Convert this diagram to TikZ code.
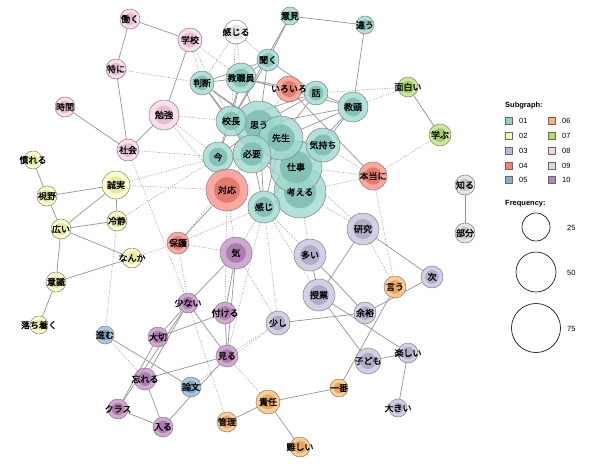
\documentclass[tikz,border=0pt]{standalone}
\usepackage{fontspec}
\newfontfamily\jpfont[FakeBold=1.2]{Noto Sans CJK JP}
\newfontfamily\legfont{Liberation Sans}
\pgfdeclarelayer{bg}\pgfdeclarelayer{fg}\pgfsetlayers{bg,main,fg}
\definecolor{c01}{HTML}{8DD3C7}
\definecolor{c02}{HTML}{FFFFB3}
\definecolor{c03}{HTML}{BEBADA}
\definecolor{c04}{HTML}{FB8072}
\definecolor{c05}{HTML}{80B1D3}
\definecolor{c06}{HTML}{FDB462}
\definecolor{c07}{HTML}{B3DE69}
\definecolor{c08}{HTML}{FCCDE5}
\definecolor{c09}{HTML}{D9D9D9}
\definecolor{cwh}{HTML}{FFFFFF}
\definecolor{c10}{HTML}{BC80BD}
\tikzset{
  kh/.style 2 args={circle, draw=black!50, line width=0.5pt, inner sep=0pt,
    minimum size=2*#1pt, fill=#2!85!white, fill opacity=0.8,
    path picture={\fill[#2!88!black] (path picture bounding box.center) circle (0.62*#1pt);}},
  lbl/.style={inner sep=0pt, font=\jpfont\fontsize{9}{10}\selectfont},
  se/.style={draw=black!42, line width=0.7pt},
  de/.style={draw=black!38, line width=0.7pt, dash pattern=on 0.9pt off 1.6pt},
  sq/.style={draw=black!60, line width=0.5pt, minimum width=7pt, minimum height=7pt, inner sep=0pt},
  lt/.style={font=\legfont\fontsize{7.5}{8}\selectfont, anchor=west, inner sep=0pt},
  lh/.style={font=\legfont\bfseries\fontsize{7.5}{8}\selectfont, anchor=west, inner sep=0pt},
  fc/.style={circle, draw=black, line width=0.6pt, inner sep=0pt},
}
\newcommand\kn[6]{\node[kh={#4}{#5}] (#1) at (#2,#3) {};
  \begin{pgfonlayer}{fg}\node[lbl] (#1-t) at (#2,#3) {#6};\end{pgfonlayer}}
\begin{document}
\begin{tikzpicture}[x=1pt,y=-1pt]
\begin{pgfonlayer}{bg}\fill[white] (0,0) rectangle (600,464);\end{pgfonlayer}
\useasboundingbox (0,0) rectangle (600,464);
% teal
\kn{kangaeru}{300}{192}{26}{c01}{考える}
\kn{shigoto}{296}{167}{26}{c01}{仕事}
\kn{omou}{259}{125}{24}{c01}{思う}
\kn{sensei}{281}{138}{22}{c01}{先生}
\kn{hitsuyo}{252}{154}{19}{c01}{必要}
\kn{kimochi}{323}{145}{17}{c01}{気持ち}
\kn{ima}{218}{157}{15}{c01}{今}
\kn{kocho}{231}{121}{15}{c01}{校長}
\kn{kanji}{264}{207}{16}{c01}{感じ}
\kn{kyoshokuin}{241}{78}{15}{c01}{教職員}
\kn{kyoto}{353}{107}{15}{c01}{教頭}
\kn{handan}{202}{83}{12}{c01}{判断}
\kn{hanashi}{316}{93}{12}{c01}{話}
\kn{kiku}{268}{60}{11}{c01}{聞く}
\kn{iken}{290}{16}{9}{c01}{意見}
\kn{chigau}{365}{25}{9}{c01}{違う}
% red
\kn{taio}{227}{190}{21}{c04}{対応}
\kn{iroiro}{289}{89}{13}{c04}{いろいろ}
\kn{honto}{373}{176}{14}{c04}{本当に}
\kn{hogo}{178}{243}{11}{c04}{保護}
% white
\kn{kanjiru}{236}{32}{12}{cwh}{感じる}
% pink
\kn{hataraku}{130}{19}{10}{c08}{働く}
\kn{gakko}{190}{40}{12}{c08}{学校}
\kn{tokuni}{116}{69}{10}{c08}{特に}
\kn{jikan}{65}{107}{10}{c08}{時間}
\kn{benkyo}{164}{115}{15}{c08}{勉強}
\kn{shakai}{128}{150}{11}{c08}{社会}
% green / gray
\kn{omoshiroi}{408}{87}{10}{c07}{面白い}
\kn{manabu}{440}{135}{11}{c07}{学ぶ}
\kn{shiru}{465}{185}{10}{c09}{知る}
\kn{bubun}{465}{233}{10}{c09}{部分}
% yellow
\kn{nareru}{33}{160}{9}{c02}{慣れる}
\kn{shiya}{47}{196}{10}{c02}{視野}
\kn{seijitsu}{116}{185}{14}{c02}{誠実}
\kn{reisei}{117}{221}{10}{c02}{冷静}
\kn{hiroi}{61}{229}{10}{c02}{広い}
\kn{nanka}{132}{258}{10}{c02}{なんか}
\kn{ishiki}{56}{282}{10}{c02}{意識}
\kn{ochitsuku}{39}{325}{9}{c02}{落ち着く}
% purple
\kn{ki}{236}{253}{16}{c10}{気}
\kn{sukunai}{188}{303}{10}{c10}{少ない}
\kn{tsukeru}{225}{313}{11}{c10}{付ける}
\kn{taisetsu}{158}{337}{10}{c10}{大切}
\kn{miru}{227}{356}{11}{c10}{見る}
\kn{wasureru}{145}{379}{11}{c10}{忘れる}
\kn{kurasu}{118}{409}{10}{c10}{クラス}
\kn{hairu}{163}{427}{10}{c10}{入る}
% blue
\kn{susumu}{105}{335}{9}{c05}{進む}
\kn{ronbun}{191}{387}{10}{c05}{論文}
% orange
\kn{kanri}{227}{422}{10}{c06}{管理}
\kn{sekinin}{268}{402}{12}{c06}{責任}
\kn{muzukashii}{300}{447}{10}{c06}{難しい}
\kn{ichiban}{339}{388}{9}{c06}{一番}
\kn{iu}{395}{287}{11}{c06}{言う}
% lavender
\kn{kenkyu}{363}{229}{16}{c03}{研究}
\kn{oi}{310}{255}{16}{c03}{多い}
\kn{tsugi}{432}{277}{11}{c03}{次}
\kn{jugyo}{319}{295}{16}{c03}{授業}
\kn{yoyu}{365}{313}{11}{c03}{余裕}
\kn{sukoshi}{278}{323}{12}{c03}{少し}
\kn{kodomo}{368}{361}{13}{c03}{子ども}
\kn{tanoshii}{408}{353}{10}{c03}{楽しい}
\kn{ookii}{398}{408}{9}{c03}{大きい}

\begin{pgfonlayer}{bg}
\foreach \a/\b in {hataraku/gakko,hataraku/tokuni,tokuni/shakai,gakko/benkyo,benkyo/shakai,jikan/shakai,
  iken/chigau,iken/kiku,iken/kocho,chigau/kyoto,
  kiku/handan,kiku/kyoshokuin,kiku/kocho,kiku/omou,kiku/hanashi,kyoshokuin/kyoto,
  handan/kyoshokuin,handan/kocho,handan/omou,handan/sensei,handan/hitsuyo,
  kyoshokuin/kocho,kyoshokuin/omou,kyoshokuin/hanashi,kyoshokuin/ima,
  hanashi/omou,hanashi/sensei,hanashi/kyoto,hanashi/kocho,
  kyoto/sensei,kyoto/kimochi,kyoto/shigoto,kyoto/omou,
  kocho/omou,kocho/ima,kocho/hitsuyo,kocho/sensei,
  omou/sensei,omou/hitsuyo,omou/ima,omou/shigoto,omou/kangaeru,omou/kanji,
  sensei/kimochi,sensei/shigoto,sensei/kangaeru,sensei/hitsuyo,sensei/kanji,
  kimochi/shigoto,kimochi/kangaeru,ima/hitsuyo,ima/shigoto,
  hitsuyo/shigoto,hitsuyo/kangaeru,hitsuyo/kanji,shigoto/kangaeru,shigoto/kanji,kangaeru/kanji,
  iroiro/honto,taio/hogo,omoshiroi/manabu,shiru/bubun,
  nareru/shiya,shiya/seijitsu,shiya/hiroi,hiroi/seijitsu,hiroi/reisei,seijitsu/reisei,
  hiroi/nanka,hiroi/ishiki,ishiki/nanka,ishiki/ochitsuku,
  ki/sukunai,ki/tsukeru,ki/miru,sukunai/taisetsu,sukunai/wasureru,sukunai/kurasu,sukunai/miru,
  taisetsu/tsukeru,taisetsu/kurasu,wasureru/miru,wasureru/hairu,kurasu/hairu,tsukeru/miru,hairu/miru,
  susumu/ronbun,
  kanri/sekinin,sekinin/muzukashii,sekinin/ichiban,ichiban/iu,
  kenkyu/jugyo,kenkyu/tsugi,oi/jugyo,oi/yoyu,jugyo/kodomo,jugyo/tanoshii,yoyu/sukoshi,yoyu/tsugi,
  kodomo/tanoshii,tanoshii/ookii}
  \draw[se] (\a) -- (\b);
\foreach \a/\b in {kanjiru/handan,kanjiru/kyoshokuin,kanjiru/kocho,kanjiru/kiku,
  gakko/handan,gakko/kyoshokuin,gakko/kocho,tokuni/handan,
  benkyo/kocho,benkyo/ima,benkyo/taio,shakai/ima,shakai/sukunai,
  seijitsu/ima,seijitsu/taio,reisei/ima,reisei/susumu,nanka/hogo,
  hogo/ki,hogo/kanji,hogo/hitsuyo,hogo/sukunai,taio/tsukeru,taio/ki,taio/ima,taio/hitsuyo,taio/kanji,
  kanji/ki,kanji/oi,kanji/sukoshi,kanji/jugyo,kanji/miru,
  kangaeru/kenkyu,shigoto/kenkyu,kangaeru/oi,
  honto/shigoto,honto/kangaeru,honto/manabu,honto/iu,honto/kimochi,kenkyu/iu,
  omoshiroi/hanashi,omoshiroi/kyoto,iroiro/omou,iroiro/kyoshokuin,iroiro/hanashi,
  miru/sukoshi,miru/sekinin,ronbun/sukoshi,sukunai/kanri,susumu/wasureru,ki/sukoshi}
  \draw[de] (\a) -- (\b);
\end{pgfonlayer}

% legend
\node[lh] (lsub) at (505,106) {Subgraph:};
\foreach \n/\c/\x/\y in {l01/c01/509/121,l02/c02/509/136,l03/c03/509/151,l04/c04/509/166,l05/c05/509/180,
  l06/c06/552/121,l07/c07/552/136,l08/c08/552/151,l09/c09/552/166,l10/c10/552/180}
  \node[sq,fill=\c] (\n) at (\x,\y) {};
\foreach \n/\t/\x/\y in {t01/01/519/121,t02/02/519/136,t03/03/519/151,t04/04/519/166,t05/05/519/180,
  t06/06/562/121,t07/07/562/136,t08/08/562/151,t09/09/562/166,t10/10/562/180}
  \node[lt] (\n) at (\x,\y) {\t};
\node[lh] (lfreq) at (505,204) {Frequency:};
\node[fc, minimum size=28pt] (f25) at (536,227) {};
\node[fc, minimum size=40pt] (f50) at (536,272) {};
\node[fc, minimum size=49pt] (f75) at (536,328) {};
\node[lt] (tf25) at (567,228) {25};
\node[lt] (tf50) at (567,273) {50};
\node[lt] (tf75) at (567,329) {75};
\end{tikzpicture}
\end{document}
